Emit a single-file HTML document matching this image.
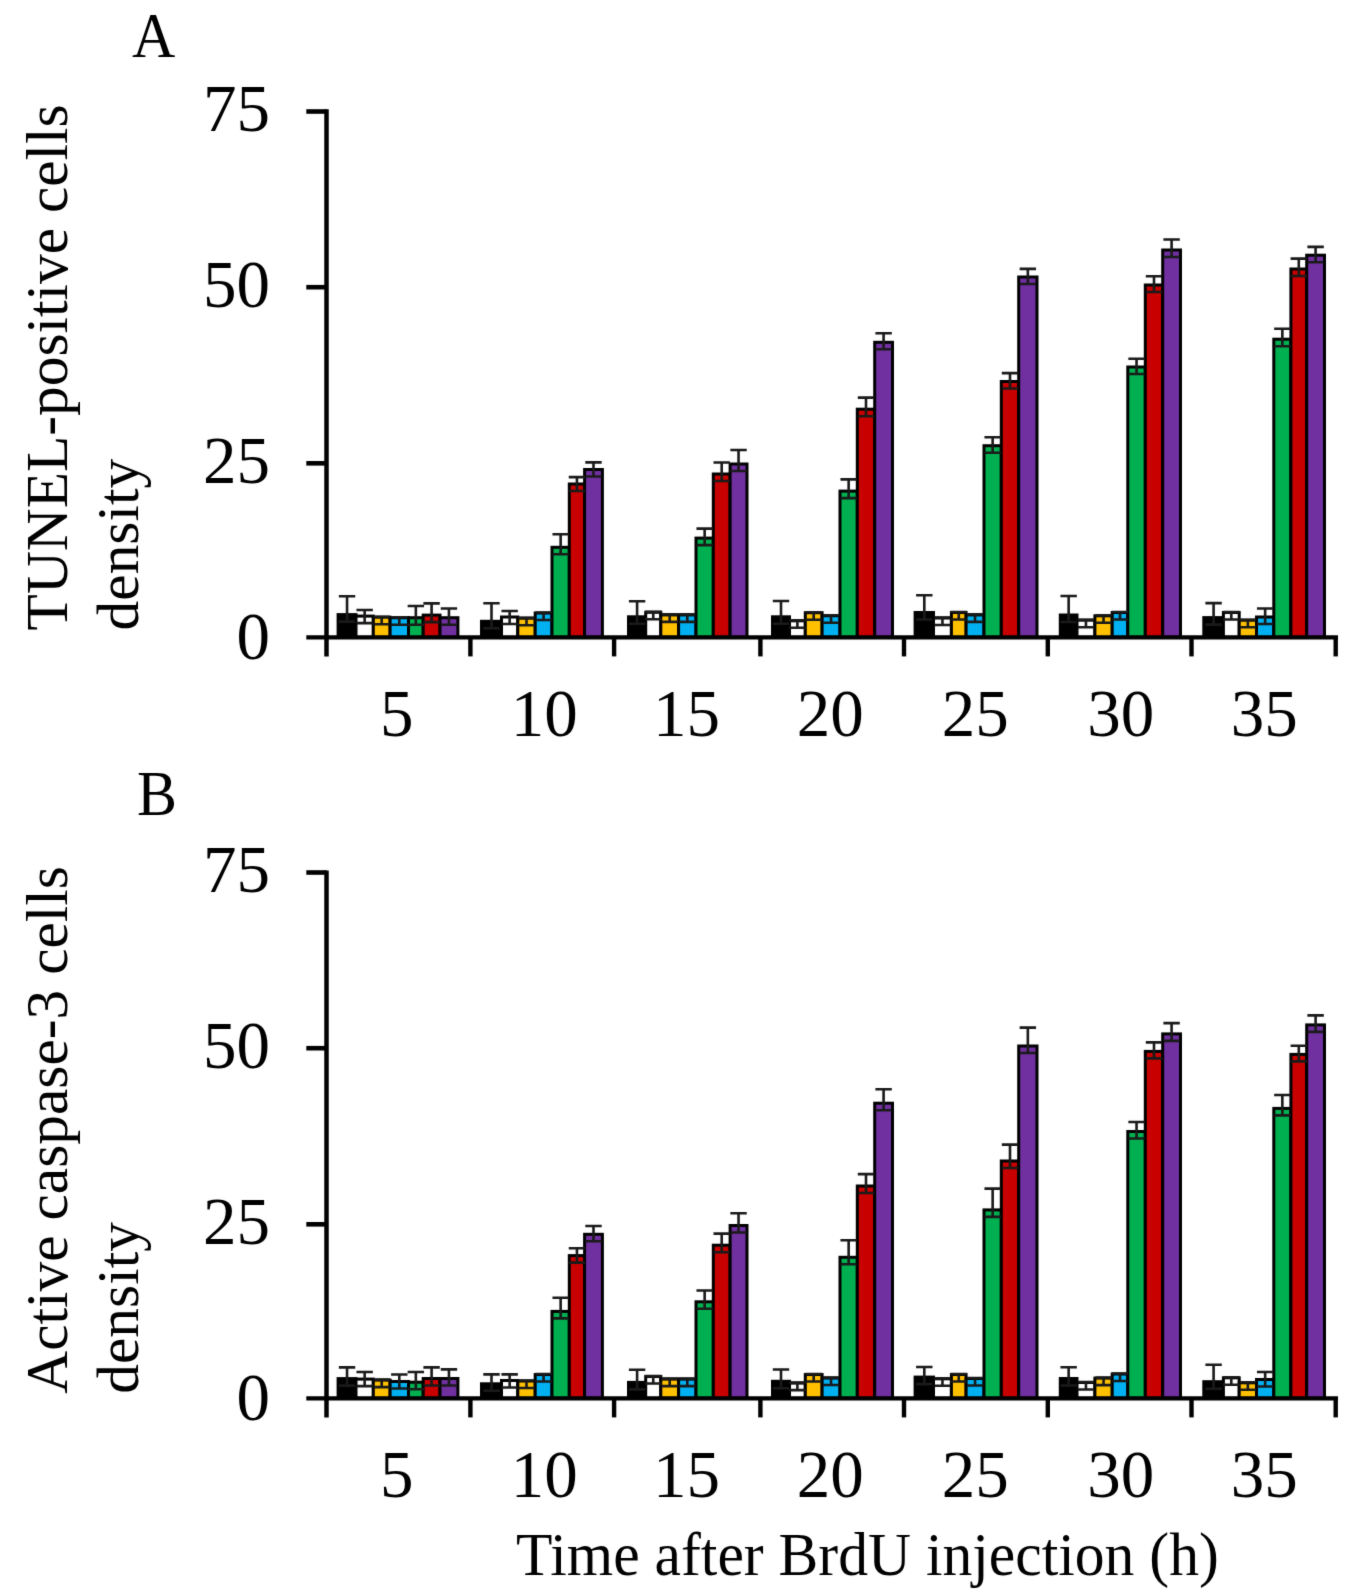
<!DOCTYPE html>
<html><head><meta charset="utf-8"><style>
html,body{margin:0;padding:0;background:#fff;}
svg{display:block;}
text{font-family:"Liberation Serif",serif;fill:#000;}
.tk{font-size:67px;}
.lt{font-size:60px;}
.yt{font-size:59.4px;}
.xt{font-size:59.6px;}
</style></head><body>
<svg width="1370" height="1596" viewBox="0 0 1370 1596">
<defs><filter id="bl" filterUnits="userSpaceOnUse" x="0" y="0" width="1370" height="1596" color-interpolation-filters="sRGB"><feConvolveMatrix order="3" kernelMatrix="0.01134 0.08382 0.01134 0.08382 0.61935 0.08382 0.01134 0.08382 0.01134" edgeMode="duplicate"/></filter></defs>
<g filter="url(#bl)">
<rect width="1370" height="1596" fill="#fff"/>
<rect x="338.10" y="614.60" width="17.90" height="22.80" fill="#000000" stroke="#000" stroke-width="3.0"/>
<rect x="356.00" y="616.10" width="17.30" height="21.30" fill="#ffffff" stroke="#000" stroke-width="3.0"/>
<rect x="373.30" y="617.20" width="16.80" height="20.20" fill="#ffc000" stroke="#000" stroke-width="3.0"/>
<rect x="390.10" y="617.70" width="18.40" height="19.70" fill="#00b0f0" stroke="#000" stroke-width="3.0"/>
<rect x="408.50" y="617.70" width="14.70" height="19.70" fill="#00b050" stroke="#000" stroke-width="3.0"/>
<rect x="423.20" y="615.10" width="16.80" height="22.30" fill="#c80000" stroke="#000" stroke-width="3.0"/>
<rect x="440.00" y="617.70" width="17.90" height="19.70" fill="#7030a0" stroke="#000" stroke-width="3.0"/>
<rect x="481.50" y="621.30" width="20.00" height="16.10" fill="#000000" stroke="#000" stroke-width="3.0"/>
<rect x="501.50" y="617.00" width="16.30" height="20.40" fill="#ffffff" stroke="#000" stroke-width="3.0"/>
<rect x="517.80" y="618.20" width="17.40" height="19.20" fill="#ffc000" stroke="#000" stroke-width="3.0"/>
<rect x="535.20" y="613.00" width="16.80" height="24.40" fill="#00b0f0" stroke="#000" stroke-width="3.0"/>
<rect x="552.00" y="547.30" width="17.30" height="90.10" fill="#00b050" stroke="#000" stroke-width="3.0"/>
<rect x="569.30" y="484.00" width="15.30" height="153.40" fill="#c80000" stroke="#000" stroke-width="3.0"/>
<rect x="584.60" y="469.50" width="17.80" height="167.90" fill="#7030a0" stroke="#000" stroke-width="3.0"/>
<rect x="628.50" y="616.80" width="17.20" height="20.60" fill="#000000" stroke="#000" stroke-width="3.0"/>
<rect x="645.70" y="612.30" width="15.10" height="25.10" fill="#ffffff" stroke="#000" stroke-width="3.0"/>
<rect x="660.80" y="614.90" width="17.80" height="22.50" fill="#ffc000" stroke="#000" stroke-width="3.0"/>
<rect x="678.60" y="614.90" width="17.40" height="22.50" fill="#00b0f0" stroke="#000" stroke-width="3.0"/>
<rect x="696.00" y="538.10" width="17.30" height="99.30" fill="#00b050" stroke="#000" stroke-width="3.0"/>
<rect x="713.30" y="474.00" width="16.80" height="163.40" fill="#c80000" stroke="#000" stroke-width="3.0"/>
<rect x="730.10" y="464.00" width="16.90" height="173.40" fill="#7030a0" stroke="#000" stroke-width="3.0"/>
<rect x="772.50" y="616.80" width="17.00" height="20.60" fill="#000000" stroke="#000" stroke-width="3.0"/>
<rect x="789.50" y="620.80" width="15.80" height="16.60" fill="#ffffff" stroke="#000" stroke-width="3.0"/>
<rect x="805.30" y="612.70" width="16.80" height="24.70" fill="#ffc000" stroke="#000" stroke-width="3.0"/>
<rect x="822.10" y="615.70" width="17.90" height="21.70" fill="#00b0f0" stroke="#000" stroke-width="3.0"/>
<rect x="840.00" y="491.10" width="17.30" height="146.30" fill="#00b050" stroke="#000" stroke-width="3.0"/>
<rect x="857.30" y="409.20" width="17.40" height="228.20" fill="#c80000" stroke="#000" stroke-width="3.0"/>
<rect x="874.70" y="342.30" width="17.80" height="295.10" fill="#7030a0" stroke="#000" stroke-width="3.0"/>
<rect x="915.10" y="612.50" width="18.40" height="24.90" fill="#000000" stroke="#000" stroke-width="3.0"/>
<rect x="933.50" y="618.00" width="17.90" height="19.40" fill="#ffffff" stroke="#000" stroke-width="3.0"/>
<rect x="951.40" y="612.50" width="14.70" height="24.90" fill="#ffc000" stroke="#000" stroke-width="3.0"/>
<rect x="966.10" y="614.90" width="17.90" height="22.50" fill="#00b0f0" stroke="#000" stroke-width="3.0"/>
<rect x="984.00" y="445.70" width="17.30" height="191.70" fill="#00b050" stroke="#000" stroke-width="3.0"/>
<rect x="1001.30" y="381.50" width="17.40" height="255.90" fill="#c80000" stroke="#000" stroke-width="3.0"/>
<rect x="1018.70" y="277.00" width="18.30" height="360.40" fill="#7030a0" stroke="#000" stroke-width="3.0"/>
<rect x="1060.30" y="615.00" width="16.70" height="22.40" fill="#000000" stroke="#000" stroke-width="3.0"/>
<rect x="1077.00" y="620.20" width="17.90" height="17.20" fill="#ffffff" stroke="#000" stroke-width="3.0"/>
<rect x="1094.90" y="615.80" width="17.30" height="21.60" fill="#ffc000" stroke="#000" stroke-width="3.0"/>
<rect x="1112.20" y="612.50" width="15.60" height="24.90" fill="#00b0f0" stroke="#000" stroke-width="3.0"/>
<rect x="1127.80" y="367.00" width="17.50" height="270.40" fill="#00b050" stroke="#000" stroke-width="3.0"/>
<rect x="1145.30" y="285.00" width="17.40" height="352.40" fill="#c80000" stroke="#000" stroke-width="3.0"/>
<rect x="1162.70" y="250.00" width="17.80" height="387.40" fill="#7030a0" stroke="#000" stroke-width="3.0"/>
<rect x="1203.80" y="617.60" width="19.60" height="19.80" fill="#000000" stroke="#000" stroke-width="3.0"/>
<rect x="1223.40" y="612.50" width="15.80" height="24.90" fill="#ffffff" stroke="#000" stroke-width="3.0"/>
<rect x="1239.20" y="620.20" width="17.30" height="17.20" fill="#ffc000" stroke="#000" stroke-width="3.0"/>
<rect x="1256.50" y="617.00" width="17.30" height="20.40" fill="#00b0f0" stroke="#000" stroke-width="3.0"/>
<rect x="1273.80" y="339.20" width="17.10" height="298.20" fill="#00b050" stroke="#000" stroke-width="3.0"/>
<rect x="1290.90" y="269.00" width="15.80" height="368.40" fill="#c80000" stroke="#000" stroke-width="3.0"/>
<rect x="1306.70" y="255.20" width="17.80" height="382.20" fill="#7030a0" stroke="#000" stroke-width="3.0"/>
<path d="M347.05 596.20V621.60M338.85 596.20H355.25M338.85 621.60H355.25" stroke="#1a1a1a" stroke-width="2.6" fill="none"/>
<path d="M364.65 610.00V623.10M356.45 610.00H372.85M356.45 623.10H372.85" stroke="#1a1a1a" stroke-width="2.6" fill="none"/>
<path d="M381.70 616.70V624.20M373.50 616.70H389.90M373.50 624.20H389.90" stroke="#1a1a1a" stroke-width="2.6" fill="none"/>
<path d="M399.30 617.20V624.70M391.10 617.20H407.50M391.10 624.70H407.50" stroke="#1a1a1a" stroke-width="2.6" fill="none"/>
<path d="M415.85 606.00V624.70M407.65 606.00H424.05M407.65 624.70H424.05" stroke="#1a1a1a" stroke-width="2.6" fill="none"/>
<path d="M431.60 603.40V622.10M423.40 603.40H439.80M423.40 622.10H439.80" stroke="#1a1a1a" stroke-width="2.6" fill="none"/>
<path d="M448.95 608.50V624.70M440.75 608.50H457.15M440.75 624.70H457.15" stroke="#1a1a1a" stroke-width="2.6" fill="none"/>
<path d="M491.50 603.30V628.30M483.30 603.30H499.70M483.30 628.30H499.70" stroke="#1a1a1a" stroke-width="2.6" fill="none"/>
<path d="M509.65 611.00V624.00M501.45 611.00H517.85M501.45 624.00H517.85" stroke="#1a1a1a" stroke-width="2.6" fill="none"/>
<path d="M526.50 617.70V625.20M518.30 617.70H534.70M518.30 625.20H534.70" stroke="#1a1a1a" stroke-width="2.6" fill="none"/>
<path d="M543.60 612.50V620.00M535.40 612.50H551.80M535.40 620.00H551.80" stroke="#1a1a1a" stroke-width="2.6" fill="none"/>
<path d="M560.65 534.20V554.30M552.45 534.20H568.85M552.45 554.30H568.85" stroke="#1a1a1a" stroke-width="2.6" fill="none"/>
<path d="M576.95 477.10V491.00M568.75 477.10H585.15M568.75 491.00H585.15" stroke="#1a1a1a" stroke-width="2.6" fill="none"/>
<path d="M593.50 462.40V476.50M585.30 462.40H601.70M585.30 476.50H601.70" stroke="#1a1a1a" stroke-width="2.6" fill="none"/>
<path d="M637.10 601.20V623.80M628.90 601.20H645.30M628.90 623.80H645.30" stroke="#1a1a1a" stroke-width="2.6" fill="none"/>
<path d="M653.25 611.80V619.30M645.05 611.80H661.45M645.05 619.30H661.45" stroke="#1a1a1a" stroke-width="2.6" fill="none"/>
<path d="M669.70 614.40V621.90M661.50 614.40H677.90M661.50 621.90H677.90" stroke="#1a1a1a" stroke-width="2.6" fill="none"/>
<path d="M687.30 614.40V621.90M679.10 614.40H695.50M679.10 621.90H695.50" stroke="#1a1a1a" stroke-width="2.6" fill="none"/>
<path d="M704.65 528.60V545.10M696.45 528.60H712.85M696.45 545.10H712.85" stroke="#1a1a1a" stroke-width="2.6" fill="none"/>
<path d="M721.70 462.50V481.00M713.50 462.50H729.90M713.50 481.00H729.90" stroke="#1a1a1a" stroke-width="2.6" fill="none"/>
<path d="M738.55 450.00V471.00M730.35 450.00H746.75M730.35 471.00H746.75" stroke="#1a1a1a" stroke-width="2.6" fill="none"/>
<path d="M781.00 601.00V623.80M772.80 601.00H789.20M772.80 623.80H789.20" stroke="#1a1a1a" stroke-width="2.6" fill="none"/>
<path d="M797.40 620.30V627.80M789.20 620.30H805.60M789.20 627.80H805.60" stroke="#1a1a1a" stroke-width="2.6" fill="none"/>
<path d="M813.70 612.20V619.70M805.50 612.20H821.90M805.50 619.70H821.90" stroke="#1a1a1a" stroke-width="2.6" fill="none"/>
<path d="M831.05 615.20V622.70M822.85 615.20H839.25M822.85 622.70H839.25" stroke="#1a1a1a" stroke-width="2.6" fill="none"/>
<path d="M848.65 479.40V498.10M840.45 479.40H856.85M840.45 498.10H856.85" stroke="#1a1a1a" stroke-width="2.6" fill="none"/>
<path d="M866.00 397.60V416.20M857.80 397.60H874.20M857.80 416.20H874.20" stroke="#1a1a1a" stroke-width="2.6" fill="none"/>
<path d="M883.60 333.30V349.30M875.40 333.30H891.80M875.40 349.30H891.80" stroke="#1a1a1a" stroke-width="2.6" fill="none"/>
<path d="M924.30 595.30V619.50M916.10 595.30H932.50M916.10 619.50H932.50" stroke="#1a1a1a" stroke-width="2.6" fill="none"/>
<path d="M942.45 617.50V625.00M934.25 617.50H950.65M934.25 625.00H950.65" stroke="#1a1a1a" stroke-width="2.6" fill="none"/>
<path d="M958.75 612.00V619.50M950.55 612.00H966.95M950.55 619.50H966.95" stroke="#1a1a1a" stroke-width="2.6" fill="none"/>
<path d="M975.05 614.40V621.90M966.85 614.40H983.25M966.85 621.90H983.25" stroke="#1a1a1a" stroke-width="2.6" fill="none"/>
<path d="M992.65 437.30V452.70M984.45 437.30H1000.85M984.45 452.70H1000.85" stroke="#1a1a1a" stroke-width="2.6" fill="none"/>
<path d="M1010.00 373.10V388.50M1001.80 373.10H1018.20M1001.80 388.50H1018.20" stroke="#1a1a1a" stroke-width="2.6" fill="none"/>
<path d="M1027.85 268.90V284.00M1019.65 268.90H1036.05M1019.65 284.00H1036.05" stroke="#1a1a1a" stroke-width="2.6" fill="none"/>
<path d="M1068.65 596.00V622.00M1060.45 596.00H1076.85M1060.45 622.00H1076.85" stroke="#1a1a1a" stroke-width="2.6" fill="none"/>
<path d="M1085.95 619.70V627.20M1077.75 619.70H1094.15M1077.75 627.20H1094.15" stroke="#1a1a1a" stroke-width="2.6" fill="none"/>
<path d="M1103.55 615.30V622.80M1095.35 615.30H1111.75M1095.35 622.80H1111.75" stroke="#1a1a1a" stroke-width="2.6" fill="none"/>
<path d="M1120.00 612.00V619.50M1111.80 612.00H1128.20M1111.80 619.50H1128.20" stroke="#1a1a1a" stroke-width="2.6" fill="none"/>
<path d="M1136.55 358.70V374.00M1128.35 358.70H1144.75M1128.35 374.00H1144.75" stroke="#1a1a1a" stroke-width="2.6" fill="none"/>
<path d="M1154.00 276.30V292.00M1145.80 276.30H1162.20M1145.80 292.00H1162.20" stroke="#1a1a1a" stroke-width="2.6" fill="none"/>
<path d="M1171.60 239.50V257.00M1163.40 239.50H1179.80M1163.40 257.00H1179.80" stroke="#1a1a1a" stroke-width="2.6" fill="none"/>
<path d="M1213.60 603.10V624.60M1205.40 603.10H1221.80M1205.40 624.60H1221.80" stroke="#1a1a1a" stroke-width="2.6" fill="none"/>
<path d="M1231.30 612.00V619.50M1223.10 612.00H1239.50M1223.10 619.50H1239.50" stroke="#1a1a1a" stroke-width="2.6" fill="none"/>
<path d="M1247.85 619.70V627.20M1239.65 619.70H1256.05M1239.65 627.20H1256.05" stroke="#1a1a1a" stroke-width="2.6" fill="none"/>
<path d="M1265.15 608.50V624.00M1256.95 608.50H1273.35M1256.95 624.00H1273.35" stroke="#1a1a1a" stroke-width="2.6" fill="none"/>
<path d="M1282.35 328.80V346.20M1274.15 328.80H1290.55M1274.15 346.20H1290.55" stroke="#1a1a1a" stroke-width="2.6" fill="none"/>
<path d="M1298.80 258.60V276.00M1290.60 258.60H1307.00M1290.60 276.00H1307.00" stroke="#1a1a1a" stroke-width="2.6" fill="none"/>
<path d="M1315.60 246.90V262.20M1307.40 246.90H1323.80M1307.40 262.20H1323.80" stroke="#1a1a1a" stroke-width="2.6" fill="none"/>
<path d="M326.5 109.3V656.4" stroke="#000" stroke-width="4.5" fill="none"/>
<path d="M306.3 637.4H1338" stroke="#000" stroke-width="4.4" fill="none"/>
<path d="M306.3 463.30H326.5" stroke="#000" stroke-width="4.6" fill="none"/>
<path d="M306.3 287.20H326.5" stroke="#000" stroke-width="4.6" fill="none"/>
<path d="M306.3 111.50H326.5" stroke="#000" stroke-width="4.6" fill="none"/>
<path d="M470.40 637.4V656.4" stroke="#000" stroke-width="4.4" fill="none"/>
<path d="M614.10 637.4V656.4" stroke="#000" stroke-width="4.4" fill="none"/>
<path d="M760.40 637.4V656.4" stroke="#000" stroke-width="4.4" fill="none"/>
<path d="M904.00 637.4V656.4" stroke="#000" stroke-width="4.4" fill="none"/>
<path d="M1047.80 637.4V656.4" stroke="#000" stroke-width="4.4" fill="none"/>
<path d="M1191.50 637.4V656.4" stroke="#000" stroke-width="4.4" fill="none"/>
<path d="M1335.70 637.4V656.4" stroke="#000" stroke-width="4.4" fill="none"/>
<rect x="338.10" y="1378.60" width="17.90" height="19.80" fill="#000000" stroke="#000" stroke-width="3.0"/>
<rect x="356.00" y="1379.10" width="17.30" height="19.30" fill="#ffffff" stroke="#000" stroke-width="3.0"/>
<rect x="373.30" y="1380.10" width="16.80" height="18.30" fill="#ffc000" stroke="#000" stroke-width="3.0"/>
<rect x="390.10" y="1381.50" width="18.40" height="16.90" fill="#00b0f0" stroke="#000" stroke-width="3.0"/>
<rect x="408.50" y="1382.20" width="14.70" height="16.20" fill="#00b050" stroke="#000" stroke-width="3.0"/>
<rect x="423.20" y="1378.50" width="16.80" height="19.90" fill="#c80000" stroke="#000" stroke-width="3.0"/>
<rect x="440.00" y="1378.50" width="17.90" height="19.90" fill="#7030a0" stroke="#000" stroke-width="3.0"/>
<rect x="481.50" y="1383.80" width="20.00" height="14.60" fill="#000000" stroke="#000" stroke-width="3.0"/>
<rect x="501.50" y="1380.50" width="16.30" height="17.90" fill="#ffffff" stroke="#000" stroke-width="3.0"/>
<rect x="517.80" y="1381.00" width="17.40" height="17.40" fill="#ffc000" stroke="#000" stroke-width="3.0"/>
<rect x="535.20" y="1374.50" width="16.80" height="23.90" fill="#00b0f0" stroke="#000" stroke-width="3.0"/>
<rect x="552.00" y="1311.40" width="17.30" height="87.00" fill="#00b050" stroke="#000" stroke-width="3.0"/>
<rect x="569.30" y="1255.60" width="15.30" height="142.80" fill="#c80000" stroke="#000" stroke-width="3.0"/>
<rect x="584.60" y="1234.30" width="17.80" height="164.10" fill="#7030a0" stroke="#000" stroke-width="3.0"/>
<rect x="628.50" y="1382.40" width="17.20" height="16.00" fill="#000000" stroke="#000" stroke-width="3.0"/>
<rect x="645.70" y="1376.50" width="15.10" height="21.90" fill="#ffffff" stroke="#000" stroke-width="3.0"/>
<rect x="660.80" y="1379.10" width="17.80" height="19.30" fill="#ffc000" stroke="#000" stroke-width="3.0"/>
<rect x="678.60" y="1379.10" width="17.40" height="19.30" fill="#00b0f0" stroke="#000" stroke-width="3.0"/>
<rect x="696.00" y="1301.80" width="17.30" height="96.60" fill="#00b050" stroke="#000" stroke-width="3.0"/>
<rect x="713.30" y="1245.20" width="16.80" height="153.20" fill="#c80000" stroke="#000" stroke-width="3.0"/>
<rect x="730.10" y="1225.50" width="16.90" height="172.90" fill="#7030a0" stroke="#000" stroke-width="3.0"/>
<rect x="772.50" y="1381.30" width="17.00" height="17.10" fill="#000000" stroke="#000" stroke-width="3.0"/>
<rect x="789.50" y="1383.10" width="15.80" height="15.30" fill="#ffffff" stroke="#000" stroke-width="3.0"/>
<rect x="805.30" y="1374.50" width="16.80" height="23.90" fill="#ffc000" stroke="#000" stroke-width="3.0"/>
<rect x="822.10" y="1378.00" width="17.90" height="20.40" fill="#00b0f0" stroke="#000" stroke-width="3.0"/>
<rect x="840.00" y="1257.30" width="17.30" height="141.10" fill="#00b050" stroke="#000" stroke-width="3.0"/>
<rect x="857.30" y="1186.00" width="17.40" height="212.40" fill="#c80000" stroke="#000" stroke-width="3.0"/>
<rect x="874.70" y="1103.20" width="17.80" height="295.20" fill="#7030a0" stroke="#000" stroke-width="3.0"/>
<rect x="915.10" y="1377.10" width="18.40" height="21.30" fill="#000000" stroke="#000" stroke-width="3.0"/>
<rect x="933.50" y="1378.80" width="17.90" height="19.60" fill="#ffffff" stroke="#000" stroke-width="3.0"/>
<rect x="951.40" y="1374.50" width="14.70" height="23.90" fill="#ffc000" stroke="#000" stroke-width="3.0"/>
<rect x="966.10" y="1378.50" width="17.90" height="19.90" fill="#00b0f0" stroke="#000" stroke-width="3.0"/>
<rect x="984.00" y="1209.90" width="17.30" height="188.50" fill="#00b050" stroke="#000" stroke-width="3.0"/>
<rect x="1001.30" y="1161.00" width="17.40" height="237.40" fill="#c80000" stroke="#000" stroke-width="3.0"/>
<rect x="1018.70" y="1046.00" width="18.30" height="352.40" fill="#7030a0" stroke="#000" stroke-width="3.0"/>
<rect x="1060.30" y="1378.50" width="16.70" height="19.90" fill="#000000" stroke="#000" stroke-width="3.0"/>
<rect x="1077.00" y="1382.50" width="17.90" height="15.90" fill="#ffffff" stroke="#000" stroke-width="3.0"/>
<rect x="1094.90" y="1378.10" width="17.30" height="20.30" fill="#ffc000" stroke="#000" stroke-width="3.0"/>
<rect x="1112.20" y="1374.00" width="15.60" height="24.40" fill="#00b0f0" stroke="#000" stroke-width="3.0"/>
<rect x="1127.80" y="1131.50" width="17.50" height="266.90" fill="#00b050" stroke="#000" stroke-width="3.0"/>
<rect x="1145.30" y="1051.40" width="17.40" height="347.00" fill="#c80000" stroke="#000" stroke-width="3.0"/>
<rect x="1162.70" y="1033.90" width="17.80" height="364.50" fill="#7030a0" stroke="#000" stroke-width="3.0"/>
<rect x="1203.80" y="1381.70" width="19.60" height="16.70" fill="#000000" stroke="#000" stroke-width="3.0"/>
<rect x="1223.40" y="1377.80" width="15.80" height="20.60" fill="#ffffff" stroke="#000" stroke-width="3.0"/>
<rect x="1239.20" y="1382.80" width="17.30" height="15.60" fill="#ffc000" stroke="#000" stroke-width="3.0"/>
<rect x="1256.50" y="1379.50" width="17.30" height="18.90" fill="#00b0f0" stroke="#000" stroke-width="3.0"/>
<rect x="1273.80" y="1108.40" width="17.10" height="290.00" fill="#00b050" stroke="#000" stroke-width="3.0"/>
<rect x="1290.90" y="1054.40" width="15.80" height="344.00" fill="#c80000" stroke="#000" stroke-width="3.0"/>
<rect x="1306.70" y="1024.90" width="17.80" height="373.50" fill="#7030a0" stroke="#000" stroke-width="3.0"/>
<path d="M347.05 1367.40V1385.60M338.85 1367.40H355.25M338.85 1385.60H355.25" stroke="#1a1a1a" stroke-width="2.6" fill="none"/>
<path d="M364.65 1372.00V1386.10M356.45 1372.00H372.85M356.45 1386.10H372.85" stroke="#1a1a1a" stroke-width="2.6" fill="none"/>
<path d="M381.70 1379.60V1387.10M373.50 1379.60H389.90M373.50 1387.10H389.90" stroke="#1a1a1a" stroke-width="2.6" fill="none"/>
<path d="M399.30 1374.50V1388.50M391.10 1374.50H407.50M391.10 1388.50H407.50" stroke="#1a1a1a" stroke-width="2.6" fill="none"/>
<path d="M415.85 1372.00V1389.20M407.65 1372.00H424.05M407.65 1389.20H424.05" stroke="#1a1a1a" stroke-width="2.6" fill="none"/>
<path d="M431.60 1367.40V1385.50M423.40 1367.40H439.80M423.40 1385.50H439.80" stroke="#1a1a1a" stroke-width="2.6" fill="none"/>
<path d="M448.95 1369.40V1385.50M440.75 1369.40H457.15M440.75 1385.50H457.15" stroke="#1a1a1a" stroke-width="2.6" fill="none"/>
<path d="M491.50 1374.40V1390.80M483.30 1374.40H499.70M483.30 1390.80H499.70" stroke="#1a1a1a" stroke-width="2.6" fill="none"/>
<path d="M509.65 1374.40V1387.50M501.45 1374.40H517.85M501.45 1387.50H517.85" stroke="#1a1a1a" stroke-width="2.6" fill="none"/>
<path d="M526.50 1380.50V1388.00M518.30 1380.50H534.70M518.30 1388.00H534.70" stroke="#1a1a1a" stroke-width="2.6" fill="none"/>
<path d="M543.60 1374.00V1381.50M535.40 1374.00H551.80M535.40 1381.50H551.80" stroke="#1a1a1a" stroke-width="2.6" fill="none"/>
<path d="M560.65 1297.70V1318.40M552.45 1297.70H568.85M552.45 1318.40H568.85" stroke="#1a1a1a" stroke-width="2.6" fill="none"/>
<path d="M576.95 1248.20V1262.60M568.75 1248.20H585.15M568.75 1262.60H585.15" stroke="#1a1a1a" stroke-width="2.6" fill="none"/>
<path d="M593.50 1226.00V1241.30M585.30 1226.00H601.70M585.30 1241.30H601.70" stroke="#1a1a1a" stroke-width="2.6" fill="none"/>
<path d="M637.10 1369.70V1389.40M628.90 1369.70H645.30M628.90 1389.40H645.30" stroke="#1a1a1a" stroke-width="2.6" fill="none"/>
<path d="M653.25 1376.00V1383.50M645.05 1376.00H661.45M645.05 1383.50H661.45" stroke="#1a1a1a" stroke-width="2.6" fill="none"/>
<path d="M669.70 1378.60V1386.10M661.50 1378.60H677.90M661.50 1386.10H677.90" stroke="#1a1a1a" stroke-width="2.6" fill="none"/>
<path d="M687.30 1378.60V1386.10M679.10 1378.60H695.50M679.10 1386.10H695.50" stroke="#1a1a1a" stroke-width="2.6" fill="none"/>
<path d="M704.65 1290.50V1308.80M696.45 1290.50H712.85M696.45 1308.80H712.85" stroke="#1a1a1a" stroke-width="2.6" fill="none"/>
<path d="M721.70 1233.60V1252.20M713.50 1233.60H729.90M713.50 1252.20H729.90" stroke="#1a1a1a" stroke-width="2.6" fill="none"/>
<path d="M738.55 1213.20V1232.50M730.35 1213.20H746.75M730.35 1232.50H746.75" stroke="#1a1a1a" stroke-width="2.6" fill="none"/>
<path d="M781.00 1369.50V1388.30M772.80 1369.50H789.20M772.80 1388.30H789.20" stroke="#1a1a1a" stroke-width="2.6" fill="none"/>
<path d="M797.40 1382.60V1390.10M789.20 1382.60H805.60M789.20 1390.10H805.60" stroke="#1a1a1a" stroke-width="2.6" fill="none"/>
<path d="M813.70 1374.00V1381.50M805.50 1374.00H821.90M805.50 1381.50H821.90" stroke="#1a1a1a" stroke-width="2.6" fill="none"/>
<path d="M831.05 1377.50V1385.00M822.85 1377.50H839.25M822.85 1385.00H839.25" stroke="#1a1a1a" stroke-width="2.6" fill="none"/>
<path d="M848.65 1240.30V1264.30M840.45 1240.30H856.85M840.45 1264.30H856.85" stroke="#1a1a1a" stroke-width="2.6" fill="none"/>
<path d="M866.00 1174.10V1193.00M857.80 1174.10H874.20M857.80 1193.00H874.20" stroke="#1a1a1a" stroke-width="2.6" fill="none"/>
<path d="M883.60 1089.30V1110.20M875.40 1089.30H891.80M875.40 1110.20H891.80" stroke="#1a1a1a" stroke-width="2.6" fill="none"/>
<path d="M924.30 1367.00V1384.10M916.10 1367.00H932.50M916.10 1384.10H932.50" stroke="#1a1a1a" stroke-width="2.6" fill="none"/>
<path d="M942.45 1378.30V1385.80M934.25 1378.30H950.65M934.25 1385.80H950.65" stroke="#1a1a1a" stroke-width="2.6" fill="none"/>
<path d="M958.75 1374.00V1381.50M950.55 1374.00H966.95M950.55 1381.50H966.95" stroke="#1a1a1a" stroke-width="2.6" fill="none"/>
<path d="M975.05 1378.00V1385.50M966.85 1378.00H983.25M966.85 1385.50H983.25" stroke="#1a1a1a" stroke-width="2.6" fill="none"/>
<path d="M992.65 1188.60V1216.90M984.45 1188.60H1000.85M984.45 1216.90H1000.85" stroke="#1a1a1a" stroke-width="2.6" fill="none"/>
<path d="M1010.00 1144.60V1168.00M1001.80 1144.60H1018.20M1001.80 1168.00H1018.20" stroke="#1a1a1a" stroke-width="2.6" fill="none"/>
<path d="M1027.85 1027.60V1053.00M1019.65 1027.60H1036.05M1019.65 1053.00H1036.05" stroke="#1a1a1a" stroke-width="2.6" fill="none"/>
<path d="M1068.65 1367.30V1385.50M1060.45 1367.30H1076.85M1060.45 1385.50H1076.85" stroke="#1a1a1a" stroke-width="2.6" fill="none"/>
<path d="M1085.95 1382.00V1389.50M1077.75 1382.00H1094.15M1077.75 1389.50H1094.15" stroke="#1a1a1a" stroke-width="2.6" fill="none"/>
<path d="M1103.55 1377.60V1385.10M1095.35 1377.60H1111.75M1095.35 1385.10H1111.75" stroke="#1a1a1a" stroke-width="2.6" fill="none"/>
<path d="M1120.00 1373.50V1381.00M1111.80 1373.50H1128.20M1111.80 1381.00H1128.20" stroke="#1a1a1a" stroke-width="2.6" fill="none"/>
<path d="M1136.55 1122.00V1138.50M1128.35 1122.00H1144.75M1128.35 1138.50H1144.75" stroke="#1a1a1a" stroke-width="2.6" fill="none"/>
<path d="M1154.00 1042.40V1058.40M1145.80 1042.40H1162.20M1145.80 1058.40H1162.20" stroke="#1a1a1a" stroke-width="2.6" fill="none"/>
<path d="M1171.60 1023.10V1040.90M1163.40 1023.10H1179.80M1163.40 1040.90H1179.80" stroke="#1a1a1a" stroke-width="2.6" fill="none"/>
<path d="M1213.60 1364.80V1388.70M1205.40 1364.80H1221.80M1205.40 1388.70H1221.80" stroke="#1a1a1a" stroke-width="2.6" fill="none"/>
<path d="M1231.30 1377.30V1384.80M1223.10 1377.30H1239.50M1223.10 1384.80H1239.50" stroke="#1a1a1a" stroke-width="2.6" fill="none"/>
<path d="M1247.85 1382.30V1389.80M1239.65 1382.30H1256.05M1239.65 1389.80H1256.05" stroke="#1a1a1a" stroke-width="2.6" fill="none"/>
<path d="M1265.15 1372.00V1386.50M1256.95 1372.00H1273.35M1256.95 1386.50H1273.35" stroke="#1a1a1a" stroke-width="2.6" fill="none"/>
<path d="M1282.35 1095.00V1115.40M1274.15 1095.00H1290.55M1274.15 1115.40H1290.55" stroke="#1a1a1a" stroke-width="2.6" fill="none"/>
<path d="M1298.80 1045.70V1061.40M1290.60 1045.70H1307.00M1290.60 1061.40H1307.00" stroke="#1a1a1a" stroke-width="2.6" fill="none"/>
<path d="M1315.60 1015.40V1031.90M1307.40 1015.40H1323.80M1307.40 1031.90H1323.80" stroke="#1a1a1a" stroke-width="2.6" fill="none"/>
<path d="M326.5 870.4V1417.4" stroke="#000" stroke-width="4.5" fill="none"/>
<path d="M306.3 1398.4H1338" stroke="#000" stroke-width="4.4" fill="none"/>
<path d="M306.3 1224.30H326.5" stroke="#000" stroke-width="4.6" fill="none"/>
<path d="M306.3 1048.20H326.5" stroke="#000" stroke-width="4.6" fill="none"/>
<path d="M306.3 872.50H326.5" stroke="#000" stroke-width="4.6" fill="none"/>
<path d="M470.40 1398.4V1417.4" stroke="#000" stroke-width="4.4" fill="none"/>
<path d="M614.10 1398.4V1417.4" stroke="#000" stroke-width="4.4" fill="none"/>
<path d="M760.40 1398.4V1417.4" stroke="#000" stroke-width="4.4" fill="none"/>
<path d="M904.00 1398.4V1417.4" stroke="#000" stroke-width="4.4" fill="none"/>
<path d="M1047.80 1398.4V1417.4" stroke="#000" stroke-width="4.4" fill="none"/>
<path d="M1191.50 1398.4V1417.4" stroke="#000" stroke-width="4.4" fill="none"/>
<path d="M1335.70 1398.4V1417.4" stroke="#000" stroke-width="4.4" fill="none"/>
<text x="270" y="658.90" text-anchor="end" class="tk">0</text>
<text x="270" y="482.57" text-anchor="end" class="tk">25</text>
<text x="270" y="307.43" text-anchor="end" class="tk">50</text>
<text x="270" y="131.20" text-anchor="end" class="tk">75</text>
<text x="396.67" y="736.4" text-anchor="middle" class="tk">5</text>
<text x="544.36" y="736.4" text-anchor="middle" class="tk">10</text>
<text x="686.60" y="736.4" text-anchor="middle" class="tk">15</text>
<text x="830.29" y="736.4" text-anchor="middle" class="tk">20</text>
<text x="975.13" y="736.4" text-anchor="middle" class="tk">25</text>
<text x="1120.77" y="736.4" text-anchor="middle" class="tk">30</text>
<text x="1264.21" y="736.4" text-anchor="middle" class="tk">35</text>
<text x="132" y="56.7" class="lt" transform="translate(0 56.7) scale(1 1.045) translate(0 -56.7)">A</text>
<g transform="translate(67.2 630.4) rotate(-90)"><text x="0" y="0" class="yt">TUNEL-positive cells</text><text x="0" y="71" class="yt">density</text></g>
<text x="270" y="1420.20" text-anchor="end" class="tk">0</text>
<text x="270" y="1243.83" text-anchor="end" class="tk">25</text>
<text x="270" y="1067.70" text-anchor="end" class="tk">50</text>
<text x="270" y="892.40" text-anchor="end" class="tk">75</text>
<text x="396.67" y="1497.4" text-anchor="middle" class="tk">5</text>
<text x="544.36" y="1497.4" text-anchor="middle" class="tk">10</text>
<text x="686.60" y="1497.4" text-anchor="middle" class="tk">15</text>
<text x="830.29" y="1497.4" text-anchor="middle" class="tk">20</text>
<text x="975.13" y="1497.4" text-anchor="middle" class="tk">25</text>
<text x="1120.77" y="1497.4" text-anchor="middle" class="tk">30</text>
<text x="1264.21" y="1497.4" text-anchor="middle" class="tk">35</text>
<text x="137" y="815.2" class="lt" transform="translate(0 815.2) scale(1 1.045) translate(0 -815.2)">B</text>
<g transform="translate(67.2 1393.7) rotate(-90)"><text x="0" y="0" class="yt">Active caspase-3 cells</text><text x="0" y="71" class="yt">density</text></g>
<text x="516" y="1575" class="xt" transform="translate(0 1575) scale(1 1.035) translate(0 -1575)">Time after BrdU injection (h)</text>
</g>
</svg>
</body></html>
